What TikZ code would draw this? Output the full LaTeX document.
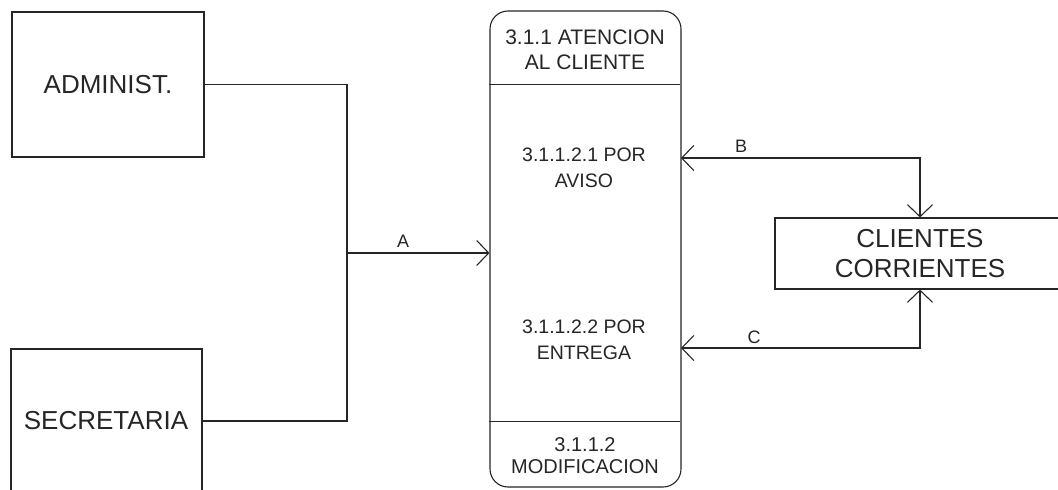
\documentclass[tikz,border=0pt]{standalone}
\usepackage{fontspec}
\setmainfont{Liberation Sans}
\usetikzlibrary{arrows.meta}
\tikzset{
  ink/.style={draw=black!85, line width=1.1pt},
  extbox/.style={ink, rectangle, inner sep=0pt, text=black!85},
  barb/.style={-{Straight Barb[length=12pt,width=25pt,line width=1.1pt]}},
  dbarb/.style={{Straight Barb[length=12pt,width=25pt,line width=1.1pt]}-{Straight Barb[length=12pt,width=25pt,line width=1.1pt]}},
  lbl/.style={font=\fontsize{18}{20}\selectfont, text=black!85, inner sep=0pt},
  hdr/.style={font=\fontsize{21}{25}\selectfont, align=center, text=black!85, inner sep=0pt},
  inner/.style={font=\fontsize{19.5}{26}\selectfont, align=center, text=black!85, inner sep=0pt},
}
\begin{document}
\begin{tikzpicture}[x=1pt, y=-1pt]
\useasboundingbox (0,0) rectangle (1058,490);
\clip (0,0) rectangle (1058,490);
\fill[white] (0,0) rectangle (1058,490);

% external entities
\node[extbox, minimum width=192pt, minimum height=145pt, font=\fontsize{26}{30}\selectfont] (adm) at (108,84.5) {ADMINIST.};
\node[extbox, minimum width=191pt, minimum height=144pt] (sec) at (106.5,421) {};
\node[font=\fontsize{26}{30}\selectfont, text=black!85, inner sep=0pt] (sectxt) at (106,421) {SECRETARIA};
\node[extbox, minimum width=290pt, minimum height=71pt, align=center, font=\fontsize{26}{30}\selectfont] (cli) at (920,253.5) {CLIENTES\\CORRIENTES};

% process
\node[ink, rectangle, rounded corners=18pt, minimum width=191pt, minimum height=476pt, inner sep=0pt] (proc) at (585.5,249) {};
\draw[ink] (proc.north west) ++(0,74) -- ++(191,0);
\draw[ink] (proc.south west) ++(0,-66) -- ++(191,0);
\node[hdr] (h1) at (585,49.5) {3.1.1 ATENCION\\AL CLIENTE};
\node[inner] (aviso) at (584,168) {3.1.1.2.1 POR\\AVISO};
\node[inner] (entrega) at (584,340) {3.1.1.2.2 POR\\ENTREGA};
\node[hdr, font=\fontsize{20}{22}\selectfont] (modif) at (585,456) {3.1.1.2\\MODIFICACION};

% flow A
\coordinate (jn) at (347,253);
\draw[ink] (adm.east) -| (jn);
\draw[ink] (sec.east) -| (jn);
\draw[ink, barb] (jn) -- (jn -| proc.west);
\node[lbl] (la) at (403,241) {A};

% flow B
\coordinate (bIn) at (681,158);
\draw[ink, dbarb] (cli.north) |- (bIn);
\node[lbl] (lb) at (741,146) {B};

% flow C
\coordinate (cIn) at (681,348);
\draw[ink, dbarb] (cli.south) |- (cIn);
\node[lbl] (lc) at (754,337) {C};
\end{tikzpicture}
\end{document}
